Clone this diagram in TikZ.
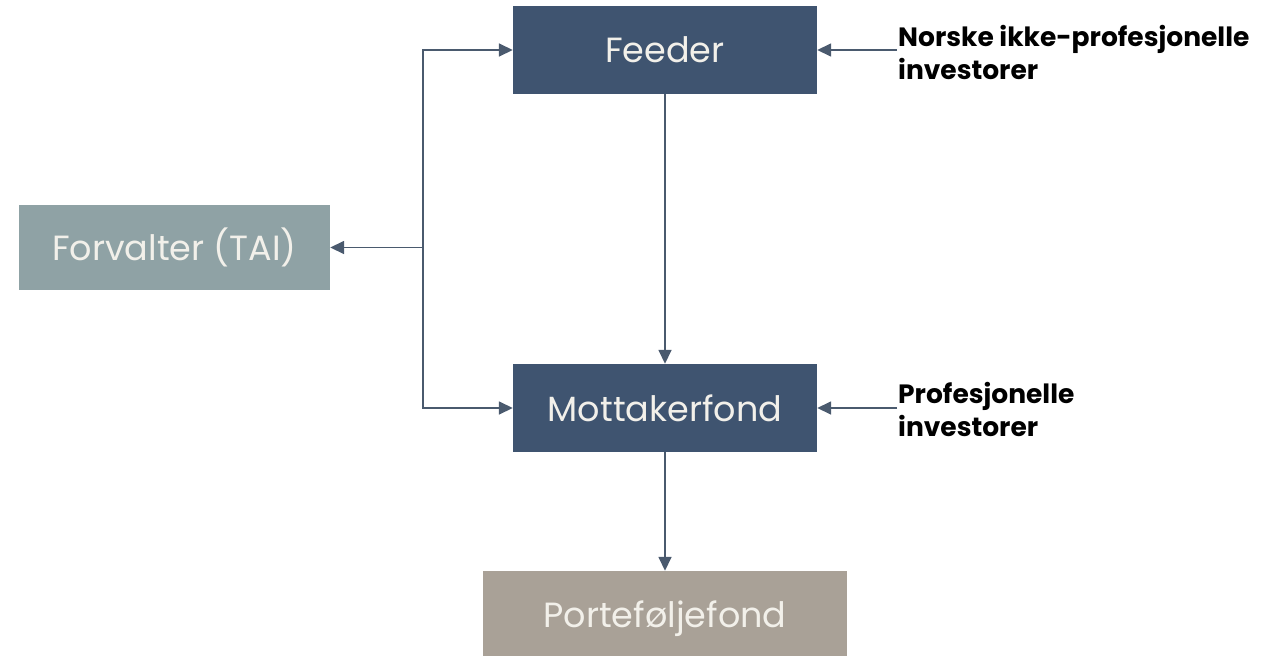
\documentclass[tikz,border=0pt]{standalone}
\usepackage{fontspec}
\setmainfont{Poppins}
\usetikzlibrary{arrows.meta}
\definecolor{navy}{HTML}{3F5470}
\definecolor{slate}{HTML}{8FA2A5}
\definecolor{taupe}{HTML}{A9A197}
\definecolor{boxtext}{HTML}{F2F0EA}
\definecolor{arrowcol}{HTML}{4A5A6E}
\tikzset{
  box/.style={rectangle, inner sep=0pt, text=boxtext, font=\fontsize{35}{40}\selectfont},
  arr/.style={draw=arrowcol, line width=1.6pt, -{Triangle[length=14pt,width=13pt]}},
  lbl/.style={align=left, inner sep=0pt, font=\bfseries\fontsize{26.5}{33}\selectfont, text=black}
}
\begin{document}
\begin{tikzpicture}[x=1pt,y=-1pt]
\useasboundingbox (0,0) rectangle (1278,656);
\clip (0,0) rectangle (1278,656);
\node[box, fill=navy, minimum width=304pt, minimum height=88pt] (feeder) at (665,50) {Feeder};
\node[box, fill=slate, minimum width=311pt, minimum height=85pt] (forv) at (174.5,247.5) {Forvalter (TAI)};
\node[box, fill=navy, minimum width=304pt, minimum height=88pt] (mottak) at (665,408) {Mottakerfond};
\node[box, fill=taupe, minimum width=364pt, minimum height=96pt] (portf) at (665,619) {Porteføljefond};
\coordinate (j) at (423,247.5);
\draw[arr] (j) -- (forv.east);
\draw[arr] (j) |- (feeder.west);
\draw[arr] (j) |- (mottak.west);
\draw[arr] (feeder.south) -- (mottak.north);
\draw[arr] (mottak.south) -- (portf.north);
\node[lbl, anchor=north west] (l1) at (898,25) {Norske ikke-profesjonelle\\investorer};
\node[lbl, anchor=north west] (l2) at (898,382) {Profesjonelle\\investorer};
\coordinate (s1) at (897,50);
\coordinate (s2) at (897,408);
\draw[arr] (s1) -- (feeder.east);
\draw[arr] (s2) -- (mottak.east);
\end{tikzpicture}
\end{document}
